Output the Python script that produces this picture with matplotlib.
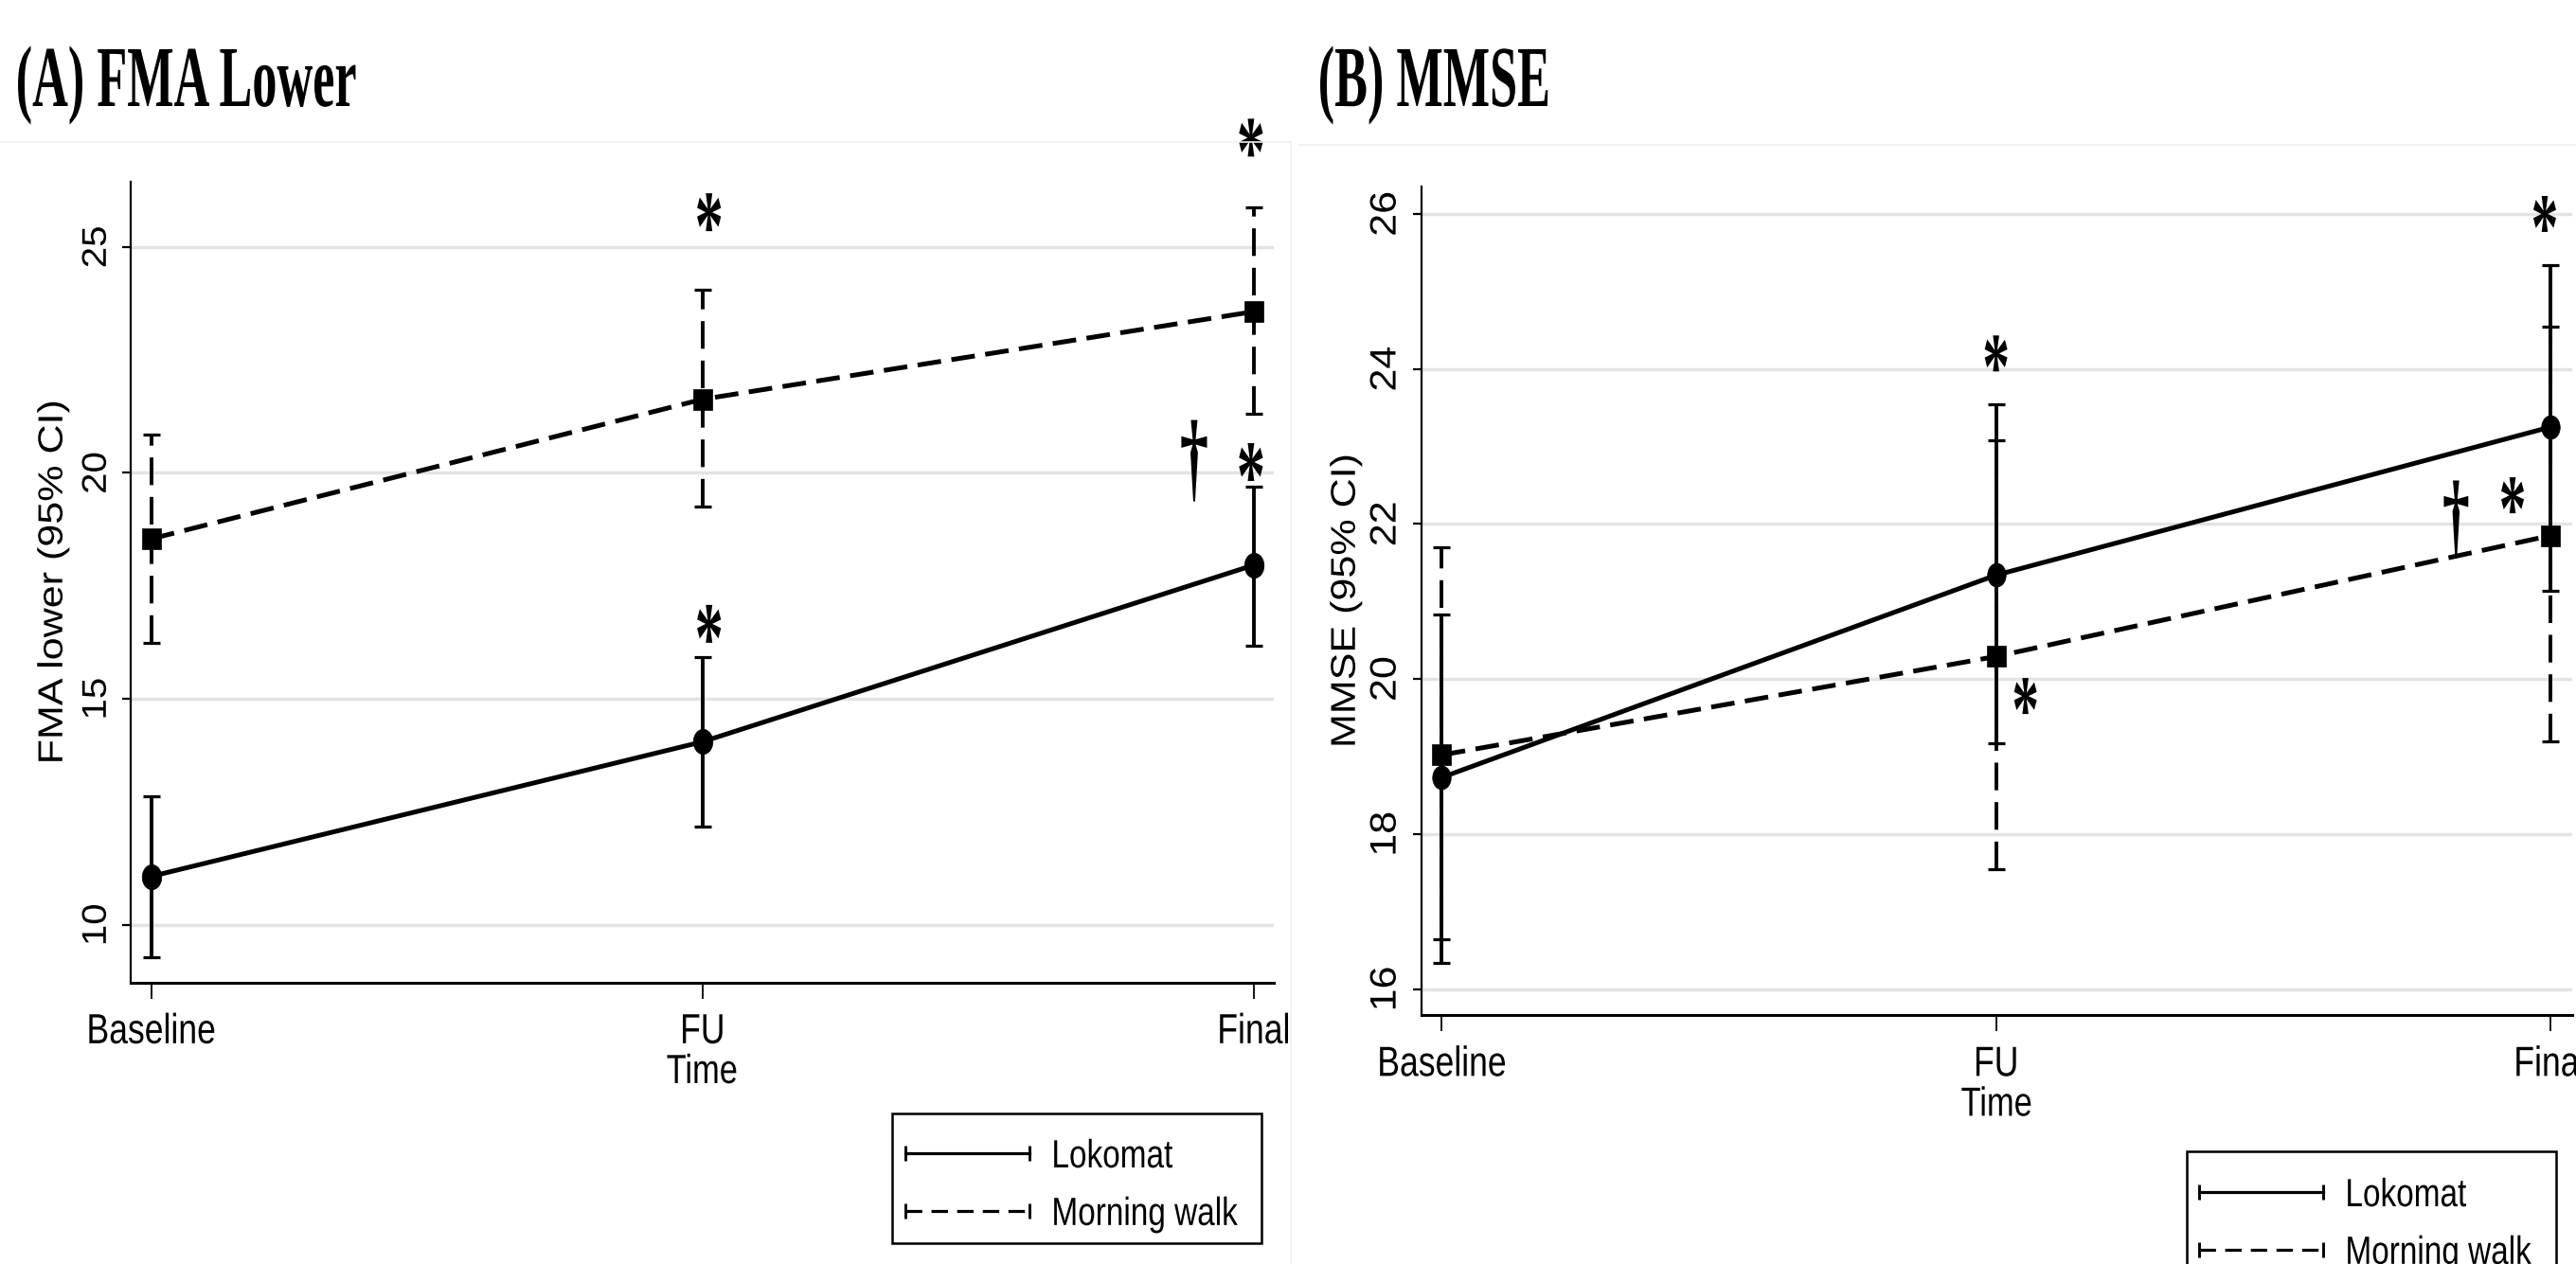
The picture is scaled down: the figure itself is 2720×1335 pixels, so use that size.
import numpy as np
import matplotlib
matplotlib.use('Agg')
import matplotlib.pyplot as plt
from matplotlib.patheffects import AbstractPathEffect
from matplotlib.transforms import Affine2D, ScaledTranslation
from matplotlib.path import Path
from matplotlib.lines import Line2D
from matplotlib.legend_handler import HandlerLine2D
from matplotlib.textpath import TextPath
from matplotlib.font_manager import FontProperties
from matplotlib.patches import Rectangle

plt.rcParams['lines.scale_dashes'] = False
plt.rcParams['font.family'] = ['Liberation Sans', 'DejaVu Sans']

# ---------------- data ----------------
time_labels = ['Baseline', 'FU', 'Final']
groups = ['Lokomat', 'Morning walk']

fma_lok_mean = [11.07, 14.05, 17.96]
fma_lok_low = [9.29, 12.17, 16.18]
fma_lok_high = [12.85, 15.93, 19.70]
fma_walk_mean = [18.54, 21.63, 23.57]
fma_walk_low = [16.24, 19.25, 21.30]
fma_walk_high = [20.85, 24.05, 25.88]

mmse_lok_mean = [18.73, 21.34, 23.25]
mmse_lok_low = [16.64, 19.17, 21.14]
mmse_lok_high = [20.83, 23.54, 25.34]
mmse_walk_mean = [19.02, 20.29, 21.85]
mmse_walk_low = [16.34, 17.55, 19.20]
mmse_walk_high = [21.70, 23.08, 24.54]

fma_yticks = [10, 15, 20, 25]
mmse_yticks = [16, 18, 20, 22, 24, 26]

# significance symbols (x in time index, y in data units)
fma_star_x = [1.012, 1.012, 1.995, 1.995]
fma_star_y = [25.77, 16.66, 27.42, 20.24]
fma_dagger_x = [1.892]
fma_dagger_y = [20.27]
mmse_star_x = [1.0, 1.053, 1.99, 1.932]
mmse_star_y = [24.2, 19.78, 26.0, 22.37]
mmse_dagger_x = [1.83]
mmse_dagger_y = [22.06]


# -------- helper: horizontally condensed text (still real text) --------
class HScale(AbstractPathEffect):
    def __init__(self, sx, anchor='center'):
        super().__init__()
        self.sx = sx
        self.anchor = anchor

    def draw_path(self, renderer, gc, tpath, affine, rgbFace=None):
        ext = tpath.get_extents(affine)
        if self.anchor == 'left':
            x0 = ext.x0
        elif self.anchor == 'right':
            x0 = ext.x1
        else:
            x0 = 0.5 * (ext.x0 + ext.x1)
        tr = affine + Affine2D().translate(-x0, 0).scale(self.sx, 1.0).translate(x0, 0)
        renderer.draw_path(gc, tpath, tr, rgbFace)


SANS = 0.80
SERIF = 0.57

W, H = 2720, 1335
DPI = 100
fig = plt.figure(figsize=(W / DPI, H / DPI), dpi=DPI, facecolor='white')


def px(x0, y0, x1, y1):
    return [x0 / W, 1 - y1 / H, (x1 - x0) / W, (y1 - y0) / H]


circle_marker = Affine2D().scale(0.78, 1.0).transform_path(Path.unit_circle())
square_marker = Affine2D().translate(-0.5, -0.5).scale(0.85, 1.0).transform_path(
    Path.unit_rectangle())

MAIN_DASH = (0, (18, 8))
BAR_DASH = (0, (21, 9))


def series(ax, mean, low, high, dashed, marker, ms):
    x = np.arange(len(mean))
    mean = np.asarray(mean)
    low = np.asarray(low)
    high = np.asarray(high)
    eb = ax.errorbar(x, mean, yerr=[mean - low, high - mean], fmt='none',
                     ecolor='k', elinewidth=2.8, capsize=6.8, capthick=2.3, zorder=3)
    if dashed:
        eb[2][0].set_linestyle(BAR_DASH)
    ax.plot(x, mean, color='k', lw=3.6, ls=MAIN_DASH if dashed else '-',
            marker=marker, ms=ms, mfc='k', mec='k', mew=0.5, zorder=4,
            dash_capstyle='butt')


def symbols(ax, xs, ys, ch, target_px, weight='bold'):
    fp0 = FontProperties(family='Liberation Serif', weight=weight, size=60)
    ext0 = TextPath((0, 0), ch, prop=fp0).get_extents()
    fs = 60 * (target_px * 72 / DPI) / ext0.height
    fp = FontProperties(family='Liberation Serif', weight=weight, size=fs)
    ext = TextPath((0, 0), ch, prop=fp).get_extents()
    cx = 0.5 * (ext.x0 + ext.x1)
    cy = 0.5 * (ext.y0 + ext.y1)
    trans = ax.transData + ScaledTranslation(-cx / 72, -cy / 72, fig.dpi_scale_trans)
    for x, y in zip(xs, ys):
        ax.text(x, y, ch, transform=trans, ha='left', va='baseline',
                fontproperties=fp, color='k', clip_on=False, zorder=6,
                path_effects=[HScale(SERIF, 'center')])


def style_axes(ax, xlim, ylim, yticks, ylabel, ytick_fs, ylabelpad):
    ax.set_xlim(*xlim)
    ax.set_ylim(*ylim)
    ax.set_xticks(np.arange(len(time_labels)), time_labels)
    ax.set_yticks(yticks)
    for s in ['top', 'right']:
        ax.spines[s].set_visible(False)
    ax.spines['left'].set_linewidth(1.6)
    ax.spines['bottom'].set_linewidth(2.2)
    ax.yaxis.grid(True, color='#e3e3e3', lw=2.5)
    ax.set_axisbelow(True)
    ax.tick_params(axis='x', length=12, width=1.3, pad=11, labelsize=32)
    ax.tick_params(axis='y', length=6.5, width=1.6, pad=6.5, labelsize=ytick_fs,
                   labelrotation=90)
    ax.set_xlabel('Time', fontsize=31, labelpad=1.5)
    ax.set_ylabel(ylabel, fontsize=31, labelpad=ylabelpad)
    for lbl in ax.get_xticklabels():
        lbl.set_path_effects([HScale(SANS, 'center')])
    for lbl in ax.get_yticklabels():
        lbl.set_va('center')
        lbl.set_ha('right')
        lbl.set_path_effects([HScale(0.9, 'right')])
    ax.xaxis.label.set_path_effects([HScale(SANS, 'center')])
    ax.yaxis.label.set_path_effects([HScale(0.85, 'right')])


# faint panel borders
for (xa, ya, xb, yb) in [(0, 150, 1363, 150), (1363, 150, 1363, 1335),
                         (1372, 153, 2720, 153)]:
    fig.add_artist(Line2D([xa / W, xb / W], [1 - ya / H, 1 - yb / H],
                          transform=fig.transFigure, color='#f0f0f0', lw=1.2))

# ---------------- panel A ----------------
axA = fig.add_axes(px(137.8, 192.4, 1345, 1037.9))
series(axA, fma_walk_mean, fma_walk_low, fma_walk_high, True, square_marker, 16.5)
series(axA, fma_lok_mean, fma_lok_low, fma_lok_high, False, circle_marker, 19)
style_axes(axA, (-0.0375, 2.0364), (8.7175, 26.435), fma_yticks,
           'FMA lower (95% CI)', 29, 6)
symbols(axA, fma_star_x, fma_star_y, '*', 40)
symbols(axA, fma_dagger_x, fma_dagger_y, '\u2020', 86)

# ---------------- panel B ----------------
axB = fig.add_axes(px(1500.6, 197.3, 2716, 1072.4))
series(axB, mmse_walk_mean, mmse_walk_low, mmse_walk_high, True, square_marker, 16.5)
series(axB, mmse_lok_mean, mmse_lok_low, mmse_lok_high, False, circle_marker, 18)
style_axes(axB, (-0.0373, 2.0396), (15.66, 26.35), mmse_yticks,
           'MMSE (95% CI)', 31, 3)
symbols(axB, mmse_star_x, mmse_star_y, '*', 38)
symbols(axB, mmse_dagger_x, mmse_dagger_y, '\u2020', 82)

# ---------------- titles ----------------
for xt, title in [(15, '(A) FMA Lower'), (1390, '(B) MMSE')]:
    fig.text(xt / W, 1 - 112 / H, title, ha='left', va='baseline',
             family='Liberation Serif', weight='bold', size=66,
             path_effects=[HScale(SERIF, 'left')])

# ---------------- legends ----------------
handles = [
    Line2D([], [], color='k', lw=2.3, ls='-', marker='|', ms=12, mew=2.1),
    Line2D([], [], color='k', lw=2.3, ls=(0, (12.5, 7)), marker='|', ms=12, mew=2.1),
]
for (hx, ty, bx0, by0, bx1, by1) in [(956, 1202, 942, 1176, 1332, 1313),
                                     (2322, 1243, 2308.5, 1216, 2698.5, 1353)]:
    leg = fig.legend(handles, groups, loc='upper left',
                     bbox_to_anchor=(hx / W, 1 - ty / H),
                     bbox_transform=fig.transFigure, frameon=False,
                     borderpad=0, borderaxespad=0, handlelength=3.14,
                     handletextpad=0.55, labelspacing=0.5, fontsize=30,
                     numpoints=2,
                     handler_map={Line2D: HandlerLine2D(marker_pad=0, numpoints=2)})
    for t in leg.get_texts():
        t.set_path_effects([HScale(SANS, 'left')])
    fig.add_artist(Rectangle((bx0 / W, 1 - by1 / H), (bx1 - bx0) / W, (by1 - by0) / H,
                             transform=fig.transFigure, fill=False, ec='k', lw=1.8))

fig.savefig('out.png', dpi=DPI, facecolor='white')
